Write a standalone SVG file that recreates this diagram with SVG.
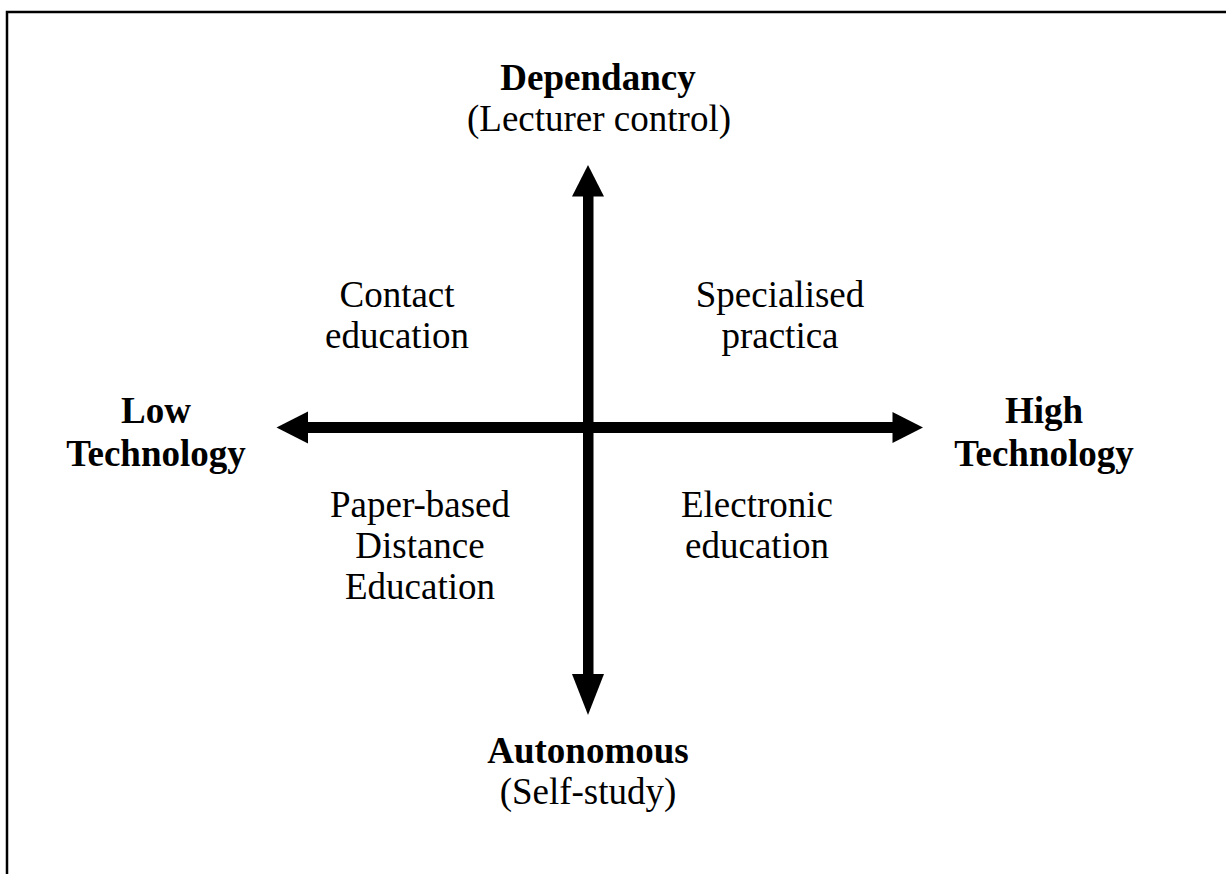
<svg xmlns="http://www.w3.org/2000/svg" width="1226" height="874" viewBox="0 0 1226 874">
<style>
text{font-family:"Liberation Serif","Times New Roman",serif;font-size:37px;fill:#000;text-anchor:middle}
.b{font-weight:bold}
.ax{fill:#000;stroke:none}
</style>
<rect width="1226" height="874" fill="#fff"/>
<g id="frame"><path d="M7 874V12H1226" fill="none" stroke="#000" stroke-width="2.5"/></g>
<g id="connectors">
<rect class="ax" x="300" y="422" width="600" height="11"/>
<rect class="ax" x="583" y="190" width="10.5" height="490"/>
<polygon class="ax" points="276.5,427.5 308,411.5 308,443.5"/>
<polygon class="ax" points="923,427.5 892.5,412 892.5,443"/>
<polygon class="ax" points="588,165 572,196.5 604,196.5"/>
<polygon class="ax" points="588,715 572,674 604,674"/>
</g>
<g id="top"><text class="b" x="598" y="90">Dependancy</text><text x="599" y="131">(Lecturer control)</text></g>
<g id="bottom"><text class="b" x="588" y="763">Autonomous</text><text x="588" y="804">(Self-study)</text></g>
<g id="left"><text class="b" x="156" y="423">Low</text><text class="b" x="156" y="466">Technology</text></g>
<g id="right"><text class="b" x="1044" y="423">High</text><text class="b" x="1044" y="466">Technology</text></g>
<g id="q1"><text x="397" y="307">Contact</text><text x="397" y="348">education</text></g>
<g id="q2"><text x="780" y="307">Specialised</text><text x="780" y="348">practica</text></g>
<g id="q3"><text x="420" y="517">Paper-based</text><text x="420" y="558">Distance</text><text x="420" y="599">Education</text></g>
<g id="q4"><text x="757" y="517">Electronic</text><text x="757" y="558">education</text></g>
</svg>
